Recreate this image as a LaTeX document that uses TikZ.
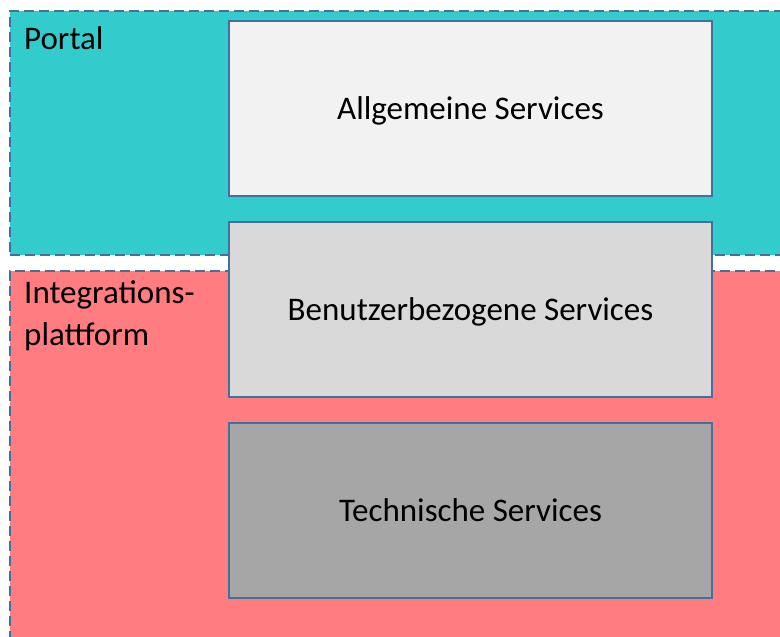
\documentclass[tikz,border=0pt]{standalone}
\usepackage{fontspec}
\setmainfont{Carlito}
\usepackage{tikz}
\usetikzlibrary{calc}

\definecolor{portalcyan}{HTML}{33CCCC}
\definecolor{intred}{HTML}{FF7C80}
\definecolor{edgeblue}{HTML}{41719C}
\definecolor{lightgrey}{HTML}{F2F2F2}
\definecolor{midgrey}{HTML}{D9D9D9}
\definecolor{darkgrey}{HTML}{A6A6A6}

\begin{document}
\begin{tikzpicture}[x=1pt, y=-1pt,
    zone/.style={draw=edgeblue, line width=1.5pt, dash pattern=on 10pt off 5pt,
      rectangle, inner sep=0pt, anchor=north west},
    service/.style={draw=edgeblue, line width=2pt, rectangle, inner sep=0pt,
      minimum width=483pt, minimum height=175pt, text depth=0pt,
      font=\fontsize{33}{40}\selectfont},
    zonelabel/.style={anchor=base west, inner sep=0pt, align=left,
      font=\fontsize{33}{42}\selectfont}]
      \useasboundingbox (0,0) rectangle (780,637);
      \clip (0,0) rectangle (780,637);
      % zones
      \node (portal) at (9,10) [zone, fill=portalcyan, minimum width=790pt, minimum height=244pt] {};
      \node (integ) at (9,270) [zone, fill=intred, minimum width=790pt, minimum height=400pt] {};
      \node (portaltxt) at (24,49) [zonelabel] {Portal};
      \node (integtxt) at (24,345) [zonelabel] {Integrations-\\plattform};
      % services
      \node (allg) at (470.5,108) [service, fill=lightgrey] {Allgemeine Services};
      \node (benutzer) at (470.5,309.5) [service, fill=midgrey] {Benutzerbezogene Services};
      \node (tech) at (470.5,510.5) [service, fill=darkgrey] {Technische Services};
    \end{tikzpicture}
\end{document}
